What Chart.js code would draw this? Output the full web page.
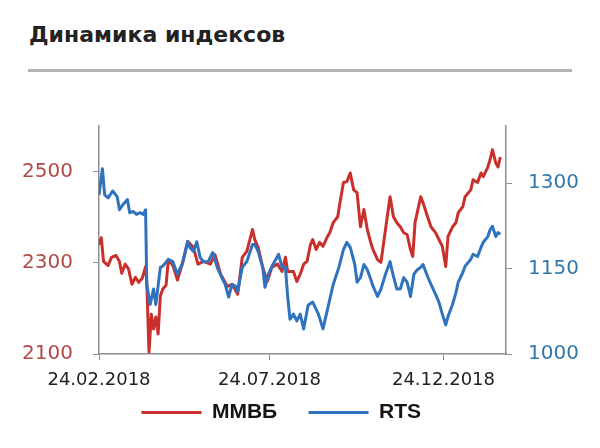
<!DOCTYPE html>
<html lang="ru">
<head>
<meta charset="utf-8">
<title>Динамика индексов</title>
<script src="https://cdn.jsdelivr.net/npm/chart.js@4.4.0/dist/chart.umd.min.js"></script>
<style>
    html, body { margin: 0; padding: 0; background: #fff; }
    #pagina { position: relative; width: 600px; height: 448px; overflow: hidden; }
    #titulo {
        position: absolute; left: 29px; top: 22px;
        font: bold 22px "DejaVu Sans", sans-serif; color: #222;
        white-space: nowrap;
    }
    #linha { position: absolute; left: 28px; top: 69px; width: 544px; height: 3px; background: #b4b4b4; }
    #caixa { position: absolute; left: 0; top: 0; width: 600px; height: 448px; }
</style>
</head>
<body>
<div id="pagina">
    <div id="titulo">Динамика индексов</div>
    <div id="linha"></div>
    <div id="caixa"><canvas id="grafico-indices"></canvas></div>
</div>
<script>
// days counted from 24.02.2018
const mmvbDays = [0, 2, 4, 8, 11, 15, 18, 20, 23, 26, 29, 32, 35, 38, 41, 42, 44, 46, 48, 50,
    52, 54, 56, 59, 61, 65, 69, 74, 78, 83, 87, 92, 98, 102, 107, 113, 117, 122, 126, 130,
    135, 137, 140, 144, 148, 152, 157, 161, 164, 166, 171, 174, 177, 180, 183, 186, 188, 191, 194, 197,
    201, 203, 206, 210, 212, 215, 218, 221, 224, 227, 230, 233, 236, 239, 241, 245, 248, 252, 256, 259,
    262, 265, 268, 271, 274, 276, 278, 283, 285, 289, 292, 296, 299, 302, 305, 307, 311, 314, 316, 320,
    322, 327, 329, 333, 336, 338, 342, 344, 346, 349, 351, 353];
const mmvbValues = [2340, 2355, 2303, 2294, 2312, 2316, 2303, 2277, 2297, 2286, 2253, 2268, 2257, 2266, 2292, 2259, 2104, 2187, 2155, 2181,
    2144, 2227, 2242, 2251, 2307, 2294, 2262, 2303, 2347, 2334, 2297, 2303, 2297, 2318, 2275, 2248, 2253, 2231, 2312, 2325,
    2373, 2351, 2334, 2290, 2259, 2290, 2297, 2281, 2312, 2281, 2281, 2259, 2275, 2297, 2303, 2340, 2351, 2329, 2345, 2336,
    2358, 2366, 2388, 2401, 2432, 2476, 2478, 2497, 2460, 2454, 2379, 2417, 2373, 2345, 2329, 2307, 2301, 2373, 2445, 2401,
    2388, 2379, 2366, 2362, 2329, 2314, 2388, 2445, 2432, 2401, 2379, 2366, 2351, 2336, 2292, 2358, 2379, 2388, 2410, 2423,
    2445, 2460, 2482, 2476, 2497, 2489, 2510, 2526, 2548, 2519, 2510, 2532];

const rtsDays = [0, 3, 5, 8, 12, 16, 18, 21, 25, 27, 30, 33, 36, 39, 41, 42, 45, 48, 50, 54,
    56, 61, 65, 69, 73, 78, 80, 83, 86, 89, 92, 96, 100, 104, 108, 111, 114, 117, 120, 122,
    126, 130, 135, 137, 140, 144, 146, 149, 153, 158, 161, 164, 166, 168, 171, 174, 177, 180, 184, 188,
    193, 197, 202, 206, 211, 215, 218, 221, 225, 227, 230, 233, 236, 239, 241, 245, 248, 252, 256, 259,
    262, 265, 268, 271, 274, 277, 280, 283, 285, 289, 292, 296, 299, 302, 305, 307, 311, 314, 316, 320,
    322, 327, 329, 333, 336, 338, 342, 344, 346, 349, 351, 353];
const rtsValues = [1279, 1325, 1279, 1274, 1286, 1276, 1253, 1262, 1271, 1248, 1250, 1245, 1248, 1245, 1253, 1122, 1087, 1114, 1087, 1152,
    1154, 1166, 1162, 1140, 1157, 1197, 1187, 1180, 1197, 1169, 1162, 1162, 1178, 1152, 1134, 1122, 1100, 1122, 1119, 1110,
    1152, 1162, 1192, 1192, 1180, 1152, 1117, 1140, 1157, 1175, 1152, 1152, 1100, 1061, 1070, 1058, 1070, 1044, 1086, 1091,
    1070, 1044, 1087, 1122, 1152, 1183, 1196, 1187, 1157, 1126, 1134, 1157, 1148, 1131, 1119, 1101, 1114, 1140, 1162, 1136,
    1114, 1114, 1134, 1126, 1101, 1140, 1148, 1152, 1157, 1136, 1122, 1105, 1091, 1070, 1051, 1066, 1087, 1108, 1126, 1143,
    1154, 1166, 1175, 1171, 1187, 1196, 1206, 1218, 1224, 1206, 1213, 1210];

const xTickDays = [0, 150, 303];
const xTickLabels = ['24.02.2018', '24.07.2018', '24.12.2018'];
const mmvbTicks = [2100, 2300, 2500];
const rtsTicks = [1000, 1150, 1300];

// trailing space after each legend label, to spread the two items apart
const legendaEspacos = ['    ', '   '];

let grafico;

function juntarPontos(dias, valores) {
    return dias.map((d, i) => ({ x: d, y: valores[i] }));
}

function montarGrafico() {
    const ctx = document.getElementById('grafico-indices').getContext('2d');
    const corEixo = '#8e8e8e';

    Chart.defaults.font.family = '"DejaVu Sans", sans-serif';

    grafico = new Chart(ctx, {
        type: 'line',
        data: {
            datasets: [{
                label: 'ММВБ',
                data: juntarPontos(mmvbDays, mmvbValues),
                yAxisID: 'yMmvb',
                borderColor: '#c9302c',
                backgroundColor: '#c9302c',
                borderWidth: 3,
                borderJoinStyle: 'round',
                pointRadius: 0,
                tension: 0,
                order: 1
            }, {
                label: 'RTS',
                data: juntarPontos(rtsDays, rtsValues),
                yAxisID: 'yRts',
                borderColor: '#2f73bf',
                backgroundColor: '#2f73bf',
                borderWidth: 3,
                borderJoinStyle: 'round',
                pointRadius: 0,
                tension: 0,
                order: 0
            }]
        },
        options: {
            responsive: true,
            maintainAspectRatio: false,
            animation: false,
            layout: { padding: { left: 0, right: 20, top: 126, bottom: 15 } },
            plugins: {
                tooltip: { enabled: false },
                legend: {
                    position: 'bottom',
                    labels: {
                        usePointStyle: true,
                        pointStyle: 'line',
                        pointStyleWidth: 60,
                        padding: 8,
                        color: '#141414',
                        font: { family: '"Liberation Sans", sans-serif', size: 21, weight: 'bold' },
                        sort: (a, b) => a.datasetIndex - b.datasetIndex,
                        generateLabels: chart => {
                            const itens = Chart.defaults.plugins.legend.labels.generateLabels(chart);
                            itens.forEach(item => { item.text += legendaEspacos[item.datasetIndex]; });
                            return itens;
                        }
                    }
                }
            },
            scales: {
                x: {
                    type: 'linear',
                    min: 0,
                    max: 358,
                    afterBuildTicks: s => { s.ticks = xTickDays.map(v => ({ value: v })); },
                    afterFit: s => { s.height = 40; },
                    ticks: {
                        callback: (v, i) => xTickLabels[i],
                        color: '#222',
                        font: { size: 18 },
                        padding: 10,
                        maxRotation: 0,
                        autoSkip: false
                    },
                    grid: { drawOnChartArea: false, tickLength: 6, color: corEixo },
                    border: { color: corEixo, width: 1.5 }
                },
                yMmvb: {
                    position: 'left',
                    min: 2100,
                    max: 2600,
                    afterBuildTicks: s => { s.ticks = mmvbTicks.map(v => ({ value: v })); },
                    afterFit: s => { s.width = 99; },
                    ticks: { callback: v => String(v), color: '#b04a47', font: { size: 20 }, padding: 20 },
                    grid: { drawOnChartArea: false, tickLength: 6, color: corEixo },
                    border: { color: corEixo, width: 1.5 }
                },
                yRts: {
                    position: 'right',
                    min: 1000,
                    max: 1400,
                    afterBuildTicks: s => { s.ticks = rtsTicks.map(v => ({ value: v })); },
                    afterFit: s => { s.width = 74; },
                    ticks: { callback: v => String(v), color: '#3278a8', font: { size: 20 }, padding: 16 },
                    grid: { drawOnChartArea: false, tickLength: 6, color: corEixo },
                    border: { color: corEixo, width: 1.5 }
                }
            }
        }
    });
}

document.addEventListener('DOMContentLoaded', montarGrafico);
</script>
</body>
</html>
